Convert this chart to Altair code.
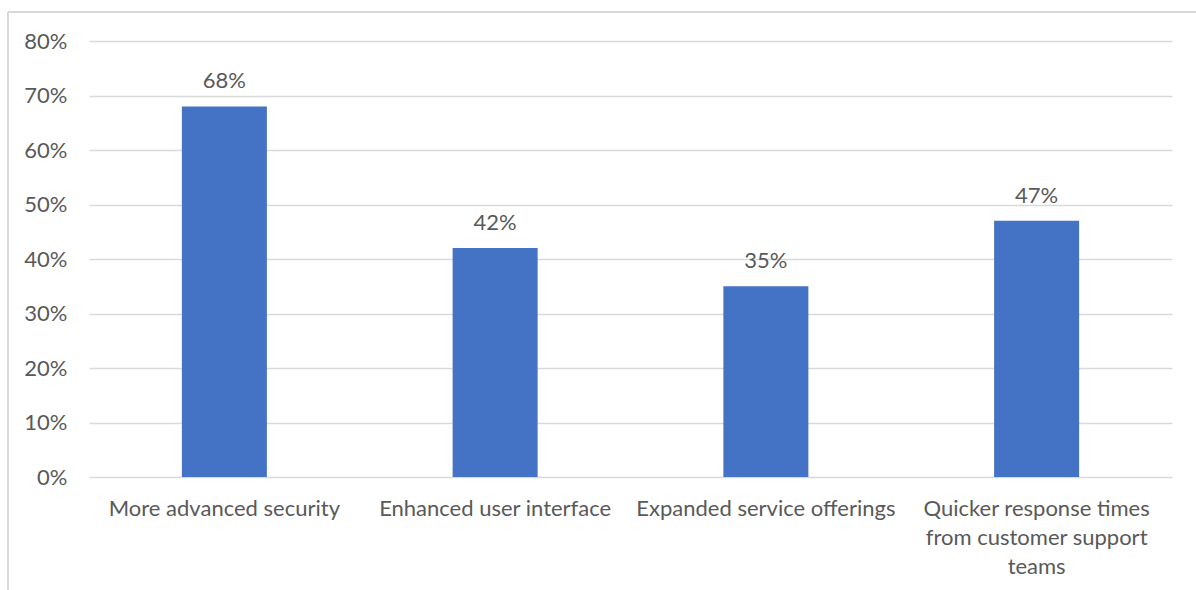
import altair as alt
import pandas as pd

categories = [
    "More advanced security",
    "Enhanced user interface",
    "Expanded service offerings",
    "Quicker response times\nfrom customer support\nteams",
]
values = [0.68, 0.42, 0.35, 0.47]
y_ticks = [0, 0.1, 0.2, 0.3, 0.4, 0.5, 0.6, 0.7, 0.8]

df = pd.DataFrame({"category": categories, "value": values})

FONT = "Lato"
FS = 22
TXT = "#595959"
W, H = 1083, 436

x_enc = alt.X(
    "category:N",
    sort=categories,
    title=None,
    scale=alt.Scale(paddingInner=0.686, paddingOuter=0.343),
    axis=alt.Axis(
        labelAngle=0,
        labelExpr="split(datum.label, '\\n')",
        labelFont=FONT,
        labelFontSize=FS,
        labelColor=TXT,
        labelPadding=21,
        labelLineHeight=29,
        labelBaseline="top",
        ticks=False,
        domain=False,
        grid=False,
        labelLimit=400,
    ),
)
y_enc = alt.Y(
    "value:Q",
    title=None,
    scale=alt.Scale(domain=[0, 0.8], nice=False),
    axis=alt.Axis(
        values=y_ticks,
        format=".0%",
        labelFont=FONT,
        labelFontSize=FS,
        labelColor=TXT,
        labelPadding=22,
        ticks=False,
        domain=False,
        grid=True,
        gridColor="#D9D9D9",
        gridWidth=1.3,
    ),
)

base = alt.Chart(df)
bars = base.mark_bar(color="#4472C4").encode(x=x_enc, y=y_enc)
labels = base.mark_text(
    font=FONT, fontSize=FS, color=TXT, baseline="bottom", dy=-13
).encode(x=alt.X("category:N", sort=categories), y="value:Q", text=alt.Text("value:Q", format=".0%"))

frame_left = alt.Chart(df).mark_rule(color="#D9D9D9", strokeWidth=1.5).encode(
    x=alt.value(-81), y=alt.value(-29), y2=alt.value(560)
)
frame_top = alt.Chart(df).mark_rule(color="#D9D9D9", strokeWidth=1.5).encode(
    x=alt.value(-81), x2=alt.value(1120), y=alt.value(-29)
)

chart = (
    alt.layer(bars, labels, frame_left, frame_top)
    .properties(
        width=W,
        height=H,
        autosize=alt.AutoSizeParams(type="none"),
        padding={"left": 89, "top": 41, "right": 24, "bottom": 113},
        background="white",
    )
    .configure_view(stroke=None)
)

chart.save("out.html", embed_options={"renderer": "svg", "actions": False})
